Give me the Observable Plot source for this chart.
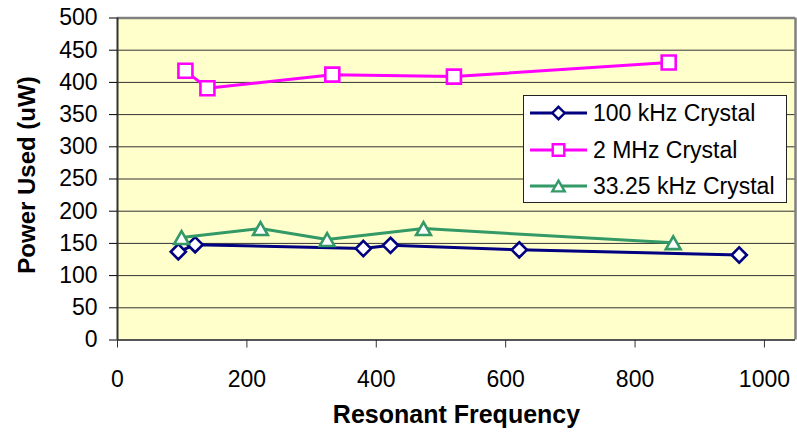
<!DOCTYPE html>
<html>
<head>
<meta charset="utf-8">
<script src="https://cdn.jsdelivr.net/npm/d3@7"></script>
<script src="https://cdn.jsdelivr.net/npm/@observablehq/plot@0.6"></script>
<style>
  html, body { margin: 0; padding: 0; background: #fff; }
  #wrap { position: relative; width: 797px; height: 439px; font-family: "Liberation Sans", Arial, sans-serif; }
  #legend { position: absolute; left: 523px; top: 95px; }
</style>
</head>
<body>
<div id="wrap"><div id="chart"></div><div id="legend"></div></div>
<script>
// ---- data ----
const seriesNames = ["100 kHz Crystal", "2 MHz Crystal", "33.25 kHz Crystal"];
const seriesColors = ["#000080", "#FF00FF", "#339966"];

const freq100k = [94, 120, 380, 422, 621, 961];
const power100k = [137, 148, 142, 147, 140, 132];

const freq2M = [105, 139, 332, 520, 852];
const power2M = [418, 391, 412, 409, 431];

const freq33k = [99, 221, 324, 473, 859];
const power33k = [159, 173, 156, 173, 151];

const xTicks = [0, 200, 400, 600, 800, 1000];
const yTicks = [0, 50, 100, 150, 200, 250, 300, 350, 400, 450, 500];
const xMax = 1048;

// ---- build table ----
const table = [];
[[freq100k, power100k], [freq2M, power2M], [freq33k, power33k]].forEach(([fx, py], i) => {
  fx.forEach((f, j) => table.push({series: seriesNames[i], freq: f, power: py[j]}));
});

// ---- custom symbols (Excel style markers) ----
const diamondSym = {draw(ctx, size) { const r = Math.sqrt(size / Math.PI); ctx.moveTo(0, -r); ctx.lineTo(r, 0); ctx.lineTo(0, r); ctx.lineTo(-r, 0); ctx.closePath(); }};
const squareSym = {draw(ctx, size) { const r = Math.sqrt(size / Math.PI); ctx.rect(-r, -r, 2 * r, 2 * r); }};
const triangleSym = {draw(ctx, size) { const r = Math.sqrt(size / Math.PI); const h = r * 1.73; ctx.moveTo(0, -h / 2); ctx.lineTo(r, h / 2); ctx.lineTo(-r, h / 2); ctx.closePath(); }};
const symbols = [diamondSym, squareSym, triangleSym];
const symR = [7.6, 7, 7.4];

const marks = [
  Plot.frame({fill: "#FFFFCC", stroke: null}),
  Plot.ruleY(yTicks.filter(d => d > 0 && d < 500), {stroke: "#333", strokeWidth: 1}),
  Plot.ruleY([500], {stroke: "#808080", strokeWidth: 2.5}),
  Plot.ruleX([xMax], {stroke: "#808080", strokeWidth: 2.5}),
  Plot.ruleY([0], {stroke: "#555", strokeWidth: 2}),
  Plot.ruleX([0], {stroke: "#333", strokeWidth: 2}),
  Plot.axisY({ticks: yTicks, tickSize: 8, tickPadding: 12, stroke: "#000", label: null, tickFormat: d => String(d)}),
  Plot.axisX({ticks: xTicks, tickSize: 8, tickPadding: 23, stroke: "#333", label: null, tickFormat: d => String(d)}),
  Plot.text(["Resonant Frequency"], {frameAnchor: "bottom", textAnchor: "middle", dy: 83, fontWeight: "bold", fontSize: 25, fill: "#000"}),
  Plot.text(["Power Used (uW)"], {frameAnchor: "left", textAnchor: "middle", dx: -90, dy: -4, rotate: -90, fontWeight: "bold", fontSize: 24, fill: "#000"})
];
seriesNames.forEach((name, i) => {
  const rows = table.filter(d => d.series === name);
  marks.push(Plot.line(rows, {x: "freq", y: "power", stroke: seriesColors[i], strokeWidth: 3}));
  marks.push(Plot.dot(rows, {x: "freq", y: "power", symbol: symbols[i], r: symR[i], fill: "white", stroke: seriesColors[i], strokeWidth: 2.6}));
});

const chart = Plot.plot({
  width: 797,
  height: 439,
  marginLeft: 117,
  marginRight: 2,
  marginTop: 17.5,
  marginBottom: 99.5,
  x: {domain: [0, xMax]},
  y: {domain: [0, 500]},
  style: {fontFamily: "'Liberation Sans', Arial, sans-serif", fontSize: "23px", color: "#000", background: "white", overflow: "visible"},
  marks
});
document.getElementById("chart").appendChild(chart);

// ---- legend ----
const lw = 264, lh = 108;
const lsvg = d3.select("#legend").append("svg").attr("width", lw).attr("height", lh);
lsvg.append("rect").attr("x", 0.5).attr("y", 0.5).attr("width", lw - 1).attr("height", lh - 1).attr("fill", "white").attr("stroke", "#222").attr("stroke-width", 1);
const rowY = [18, 55, 91];
const legR = [6.2, 5.8, 6.2];
seriesNames.forEach((name, i) => {
  const g = lsvg.append("g").attr("transform", `translate(0,${rowY[i]})`);
  g.append("line").attr("x1", 7).attr("x2", 64).attr("y1", 0).attr("y2", 0).attr("stroke", seriesColors[i]).attr("stroke-width", 3);
  const p = d3.path();
  symbols[i].draw(p, Math.PI * legR[i] ** 2);
  g.append("path").attr("d", p.toString()).attr("transform", "translate(35.5,0)").attr("fill", "white").attr("stroke", seriesColors[i]).attr("stroke-width", 2.4);
  g.append("text").attr("x", 70).attr("y", 0).attr("dy", "0.35em").attr("font-family", "'Liberation Sans', Arial, sans-serif").attr("font-size", 23).attr("fill", "#000").text(name);
});
</script>
</body>
</html>
